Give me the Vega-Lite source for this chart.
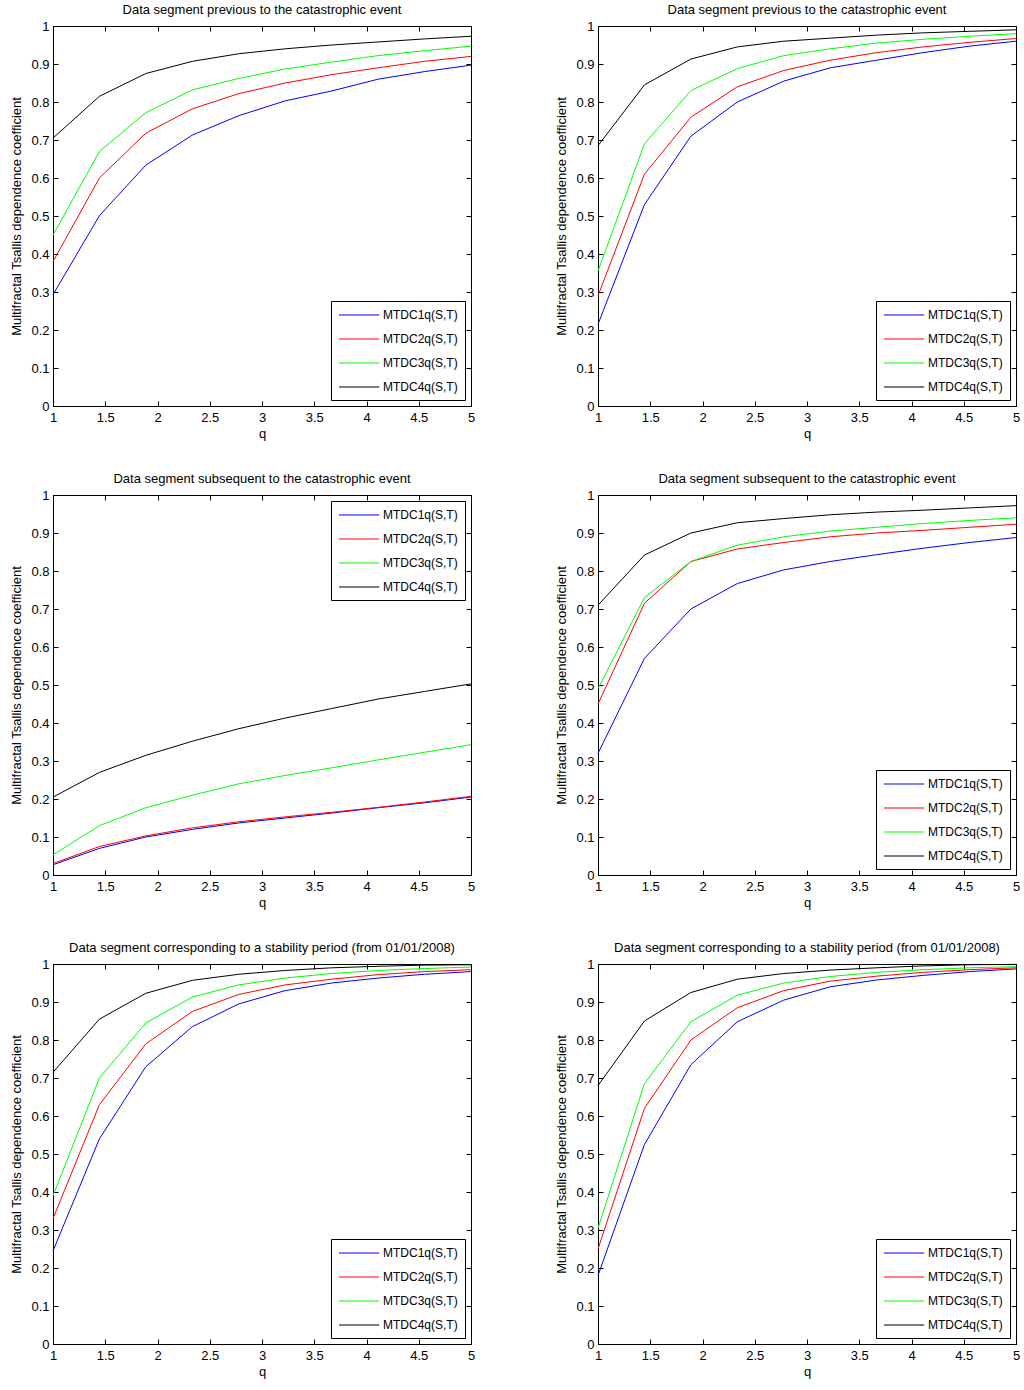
{
  "$schema": "https://vega.github.io/schema/vega-lite/v6.json",
  "background": "white",
  "padding": {"left": 10, "top": 3, "right": 5, "bottom": 5},
  "datasets": {
    "p1": [
      {"q": 1, "MTDC1": 0.293, "MTDC2": 0.38, "MTDC3": 0.45, "MTDC4": 0.705},
      {"q": 1.4444, "MTDC1": 0.501, "MTDC2": 0.6, "MTDC3": 0.67, "MTDC4": 0.815},
      {"q": 1.8889, "MTDC1": 0.634, "MTDC2": 0.718, "MTDC3": 0.772, "MTDC4": 0.875},
      {"q": 2.3333, "MTDC1": 0.713, "MTDC2": 0.782, "MTDC3": 0.832, "MTDC4": 0.907},
      {"q": 2.7778, "MTDC1": 0.764, "MTDC2": 0.822, "MTDC3": 0.862, "MTDC4": 0.927},
      {"q": 3.2222, "MTDC1": 0.803, "MTDC2": 0.85, "MTDC3": 0.887, "MTDC4": 0.94},
      {"q": 3.6667, "MTDC1": 0.829, "MTDC2": 0.872, "MTDC3": 0.905, "MTDC4": 0.95},
      {"q": 4.1111, "MTDC1": 0.86, "MTDC2": 0.89, "MTDC3": 0.922, "MTDC4": 0.958},
      {"q": 4.5556, "MTDC1": 0.88, "MTDC2": 0.907, "MTDC3": 0.935, "MTDC4": 0.966},
      {"q": 5, "MTDC1": 0.897, "MTDC2": 0.92, "MTDC3": 0.947, "MTDC4": 0.973}
    ],
    "p2": [
      {"q": 1, "MTDC1": 0.215, "MTDC2": 0.29, "MTDC3": 0.355, "MTDC4": 0.685},
      {"q": 1.4444, "MTDC1": 0.53, "MTDC2": 0.61, "MTDC3": 0.69, "MTDC4": 0.845},
      {"q": 1.8889, "MTDC1": 0.71, "MTDC2": 0.76, "MTDC3": 0.83, "MTDC4": 0.913},
      {"q": 2.3333, "MTDC1": 0.8, "MTDC2": 0.84, "MTDC3": 0.888, "MTDC4": 0.945},
      {"q": 2.7778, "MTDC1": 0.855, "MTDC2": 0.883, "MTDC3": 0.922, "MTDC4": 0.96},
      {"q": 3.2222, "MTDC1": 0.89, "MTDC2": 0.91, "MTDC3": 0.94, "MTDC4": 0.968},
      {"q": 3.6667, "MTDC1": 0.91, "MTDC2": 0.93, "MTDC3": 0.955, "MTDC4": 0.976},
      {"q": 4.1111, "MTDC1": 0.93, "MTDC2": 0.945, "MTDC3": 0.965, "MTDC4": 0.982},
      {"q": 4.5556, "MTDC1": 0.947, "MTDC2": 0.957, "MTDC3": 0.973, "MTDC4": 0.986},
      {"q": 5, "MTDC1": 0.96, "MTDC2": 0.967, "MTDC3": 0.98, "MTDC4": 0.99}
    ],
    "p3": [
      {"q": 1, "MTDC1": 0.027, "MTDC2": 0.03, "MTDC3": 0.053, "MTDC4": 0.205},
      {"q": 1.4444, "MTDC1": 0.07, "MTDC2": 0.075, "MTDC3": 0.13, "MTDC4": 0.27},
      {"q": 1.8889, "MTDC1": 0.1, "MTDC2": 0.103, "MTDC3": 0.177, "MTDC4": 0.315},
      {"q": 2.3333, "MTDC1": 0.12, "MTDC2": 0.124, "MTDC3": 0.21, "MTDC4": 0.352},
      {"q": 2.7778, "MTDC1": 0.137, "MTDC2": 0.14, "MTDC3": 0.24, "MTDC4": 0.385},
      {"q": 3.2222, "MTDC1": 0.15, "MTDC2": 0.153, "MTDC3": 0.262, "MTDC4": 0.413},
      {"q": 3.6667, "MTDC1": 0.163, "MTDC2": 0.165, "MTDC3": 0.282, "MTDC4": 0.438},
      {"q": 4.1111, "MTDC1": 0.177, "MTDC2": 0.178, "MTDC3": 0.303, "MTDC4": 0.463},
      {"q": 4.5556, "MTDC1": 0.19, "MTDC2": 0.192, "MTDC3": 0.323, "MTDC4": 0.483},
      {"q": 5, "MTDC1": 0.205, "MTDC2": 0.207, "MTDC3": 0.343, "MTDC4": 0.503}
    ],
    "p4": [
      {"q": 1, "MTDC1": 0.32, "MTDC2": 0.45, "MTDC3": 0.49, "MTDC4": 0.71},
      {"q": 1.4444, "MTDC1": 0.57, "MTDC2": 0.715, "MTDC3": 0.73, "MTDC4": 0.842},
      {"q": 1.8889, "MTDC1": 0.7, "MTDC2": 0.825, "MTDC3": 0.825, "MTDC4": 0.9},
      {"q": 2.3333, "MTDC1": 0.767, "MTDC2": 0.858, "MTDC3": 0.868, "MTDC4": 0.927},
      {"q": 2.7778, "MTDC1": 0.803, "MTDC2": 0.875, "MTDC3": 0.89, "MTDC4": 0.938},
      {"q": 3.2222, "MTDC1": 0.825, "MTDC2": 0.89, "MTDC3": 0.905, "MTDC4": 0.948},
      {"q": 3.6667, "MTDC1": 0.843, "MTDC2": 0.9, "MTDC3": 0.915, "MTDC4": 0.955},
      {"q": 4.1111, "MTDC1": 0.86, "MTDC2": 0.907, "MTDC3": 0.925, "MTDC4": 0.96},
      {"q": 4.5556, "MTDC1": 0.875, "MTDC2": 0.915, "MTDC3": 0.933, "MTDC4": 0.966},
      {"q": 5, "MTDC1": 0.888, "MTDC2": 0.923, "MTDC3": 0.94, "MTDC4": 0.972}
    ],
    "p5": [
      {"q": 1, "MTDC1": 0.245, "MTDC2": 0.33, "MTDC3": 0.39, "MTDC4": 0.715},
      {"q": 1.4444, "MTDC1": 0.54, "MTDC2": 0.63, "MTDC3": 0.7, "MTDC4": 0.855},
      {"q": 1.8889, "MTDC1": 0.73, "MTDC2": 0.79, "MTDC3": 0.845, "MTDC4": 0.923},
      {"q": 2.3333, "MTDC1": 0.835, "MTDC2": 0.875, "MTDC3": 0.913, "MTDC4": 0.957},
      {"q": 2.7778, "MTDC1": 0.895, "MTDC2": 0.92, "MTDC3": 0.945, "MTDC4": 0.973},
      {"q": 3.2222, "MTDC1": 0.93, "MTDC2": 0.945, "MTDC3": 0.963, "MTDC4": 0.983},
      {"q": 3.6667, "MTDC1": 0.95, "MTDC2": 0.96, "MTDC3": 0.975, "MTDC4": 0.99},
      {"q": 4.1111, "MTDC1": 0.963, "MTDC2": 0.972, "MTDC3": 0.983, "MTDC4": 0.994},
      {"q": 4.5556, "MTDC1": 0.973, "MTDC2": 0.98, "MTDC3": 0.988, "MTDC4": 0.997},
      {"q": 5, "MTDC1": 0.98, "MTDC2": 0.985, "MTDC3": 0.992, "MTDC4": 0.998}
    ],
    "p6": [
      {"q": 1, "MTDC1": 0.18, "MTDC2": 0.25, "MTDC3": 0.305, "MTDC4": 0.68},
      {"q": 1.4444, "MTDC1": 0.525, "MTDC2": 0.62, "MTDC3": 0.685, "MTDC4": 0.85},
      {"q": 1.8889, "MTDC1": 0.735, "MTDC2": 0.8, "MTDC3": 0.848, "MTDC4": 0.925},
      {"q": 2.3333, "MTDC1": 0.848, "MTDC2": 0.885, "MTDC3": 0.918, "MTDC4": 0.96},
      {"q": 2.7778, "MTDC1": 0.905, "MTDC2": 0.93, "MTDC3": 0.95, "MTDC4": 0.975},
      {"q": 3.2222, "MTDC1": 0.94, "MTDC2": 0.955, "MTDC3": 0.967, "MTDC4": 0.984},
      {"q": 3.6667, "MTDC1": 0.958, "MTDC2": 0.968, "MTDC3": 0.978, "MTDC4": 0.99},
      {"q": 4.1111, "MTDC1": 0.97, "MTDC2": 0.978, "MTDC3": 0.985, "MTDC4": 0.995},
      {"q": 4.5556, "MTDC1": 0.98, "MTDC2": 0.985, "MTDC3": 0.99, "MTDC4": 0.998},
      {"q": 5, "MTDC1": 0.987, "MTDC2": 0.99, "MTDC3": 0.993, "MTDC4": 0.999}
    ]
  },
  "config": {
    "font": "Liberation Sans",
    "view": {"stroke": "black", "strokeWidth": 1},
    "axis": {
      "grid": false,
      "domainColor": "black",
      "tickColor": "black",
      "labelColor": "black",
      "titleColor": "black",
      "labelFont": "Liberation Sans",
      "titleFont": "Liberation Sans",
      "labelFontSize": 13,
      "titleFontSize": 13,
      "titleFontWeight": "normal",
      "tickSize": -5,
      "labelFlush": false,
      "labelOverlap": false
    },
    "axisX": {"labelPadding": 10, "titlePadding": 3},
    "axisY": {"labelPadding": 9, "titlePadding": 7},
    "title": {"font": "Liberation Sans", "fontSize": 13, "fontWeight": "normal", "color": "black", "offset": 3},
    "legend": {
      "strokeColor": "black",
      "fillColor": "white",
      "padding": 7,
      "symbolType": "M-1,0H5.7",
      "symbolSize": 144,
      "symbolStrokeWidth": 1.2,
      "symbolOpacity": 1,
      "labelFont": "Liberation Sans",
      "labelFontSize": 12,
      "labelColor": "black",
      "labelOffset": 31,
      "rowPadding": 11,
      "offset": 6
    }
  },
  "concat": [
    {
      "title": "Data segment previous to the catastrophic event",
      "width": 418, "height": 380,
      "data": {"name": "p1"},
      "transform": [{"fold": ["MTDC1", "MTDC2", "MTDC3", "MTDC4"], "as": ["s", "v"]}],
      "layer": [
        {"mark": {"type": "line", "strokeWidth": 1},
         "encoding": {
           "x": {"field": "q", "type": "quantitative", "scale": {"domain": [1, 5], "nice": false}, "axis": {"orient": "bottom", "title": "q", "values": [1, 1.5, 2, 2.5, 3, 3.5, 4, 4.5, 5], "format": "~g"}},
           "y": {"field": "v", "type": "quantitative", "scale": {"domain": [0, 1], "nice": false}, "axis": {"orient": "left", "title": "Multifractal Tsallis dependence coefficient", "values": [0, 0.1, 0.2, 0.3, 0.4, 0.5, 0.6, 0.7, 0.8, 0.9, 1], "format": "~g"}},
           "color": {"field": "s", "type": "nominal", "scale": {"domain": ["MTDC1", "MTDC2", "MTDC3", "MTDC4"], "range": ["#0000ff", "#ff0000", "#00ff00", "#000000"]}, "legend": {"title": null, "orient": "bottom-right", "labelExpr": "datum.label + 'q(S,T)'"}}
         }},
        {"mark": {"type": "line", "opacity": 0},
         "encoding": {
           "x": {"field": "q", "type": "quantitative", "axis": {"orient": "top", "title": null, "labels": false, "values": [1, 1.5, 2, 2.5, 3, 3.5, 4, 4.5, 5]}},
           "y": {"field": "v", "type": "quantitative", "axis": {"orient": "right", "title": null, "labels": false, "values": [0, 0.1, 0.2, 0.3, 0.4, 0.5, 0.6, 0.7, 0.8, 0.9, 1]}},
           "detail": {"field": "s"}
         }}
      ],
      "resolve": {"axis": {"x": "independent", "y": "independent"}}
    },
    {
      "title": "Data segment previous to the catastrophic event",
      "width": 418, "height": 380,
      "data": {"name": "p2"},
      "transform": [{"fold": ["MTDC1", "MTDC2", "MTDC3", "MTDC4"], "as": ["s", "v"]}],
      "layer": [
        {"mark": {"type": "line", "strokeWidth": 1},
         "encoding": {
           "x": {"field": "q", "type": "quantitative", "scale": {"domain": [1, 5], "nice": false}, "axis": {"orient": "bottom", "title": "q", "values": [1, 1.5, 2, 2.5, 3, 3.5, 4, 4.5, 5], "format": "~g"}},
           "y": {"field": "v", "type": "quantitative", "scale": {"domain": [0, 1], "nice": false}, "axis": {"orient": "left", "title": "Multifractal Tsallis dependence coefficient", "values": [0, 0.1, 0.2, 0.3, 0.4, 0.5, 0.6, 0.7, 0.8, 0.9, 1], "format": "~g"}},
           "color": {"field": "s", "type": "nominal", "scale": {"domain": ["MTDC1", "MTDC2", "MTDC3", "MTDC4"], "range": ["#0000ff", "#ff0000", "#00ff00", "#000000"]}, "legend": {"title": null, "orient": "bottom-right", "labelExpr": "datum.label + 'q(S,T)'"}}
         }},
        {"mark": {"type": "line", "opacity": 0},
         "encoding": {
           "x": {"field": "q", "type": "quantitative", "axis": {"orient": "top", "title": null, "labels": false, "values": [1, 1.5, 2, 2.5, 3, 3.5, 4, 4.5, 5]}},
           "y": {"field": "v", "type": "quantitative", "axis": {"orient": "right", "title": null, "labels": false, "values": [0, 0.1, 0.2, 0.3, 0.4, 0.5, 0.6, 0.7, 0.8, 0.9, 1]}},
           "detail": {"field": "s"}
         }}
      ],
      "resolve": {"axis": {"x": "independent", "y": "independent"}}
    },
    {
      "title": "Data segment subsequent to the catastrophic event",
      "width": 418, "height": 380,
      "data": {"name": "p3"},
      "transform": [{"fold": ["MTDC1", "MTDC2", "MTDC3", "MTDC4"], "as": ["s", "v"]}],
      "layer": [
        {"mark": {"type": "line", "strokeWidth": 1},
         "encoding": {
           "x": {"field": "q", "type": "quantitative", "scale": {"domain": [1, 5], "nice": false}, "axis": {"orient": "bottom", "title": "q", "values": [1, 1.5, 2, 2.5, 3, 3.5, 4, 4.5, 5], "format": "~g"}},
           "y": {"field": "v", "type": "quantitative", "scale": {"domain": [0, 1], "nice": false}, "axis": {"orient": "left", "title": "Multifractal Tsallis dependence coefficient", "values": [0, 0.1, 0.2, 0.3, 0.4, 0.5, 0.6, 0.7, 0.8, 0.9, 1], "format": "~g"}},
           "color": {"field": "s", "type": "nominal", "scale": {"domain": ["MTDC1", "MTDC2", "MTDC3", "MTDC4"], "range": ["#0000ff", "#ff0000", "#00ff00", "#000000"]}, "legend": {"title": null, "orient": "top-right", "labelExpr": "datum.label + 'q(S,T)'"}}
         }},
        {"mark": {"type": "line", "opacity": 0},
         "encoding": {
           "x": {"field": "q", "type": "quantitative", "axis": {"orient": "top", "title": null, "labels": false, "values": [1, 1.5, 2, 2.5, 3, 3.5, 4, 4.5, 5]}},
           "y": {"field": "v", "type": "quantitative", "axis": {"orient": "right", "title": null, "labels": false, "values": [0, 0.1, 0.2, 0.3, 0.4, 0.5, 0.6, 0.7, 0.8, 0.9, 1]}},
           "detail": {"field": "s"}
         }}
      ],
      "resolve": {"axis": {"x": "independent", "y": "independent"}}
    },
    {
      "title": "Data segment subsequent to the catastrophic event",
      "width": 418, "height": 380,
      "data": {"name": "p4"},
      "transform": [{"fold": ["MTDC1", "MTDC2", "MTDC3", "MTDC4"], "as": ["s", "v"]}],
      "layer": [
        {"mark": {"type": "line", "strokeWidth": 1},
         "encoding": {
           "x": {"field": "q", "type": "quantitative", "scale": {"domain": [1, 5], "nice": false}, "axis": {"orient": "bottom", "title": "q", "values": [1, 1.5, 2, 2.5, 3, 3.5, 4, 4.5, 5], "format": "~g"}},
           "y": {"field": "v", "type": "quantitative", "scale": {"domain": [0, 1], "nice": false}, "axis": {"orient": "left", "title": "Multifractal Tsallis dependence coefficient", "values": [0, 0.1, 0.2, 0.3, 0.4, 0.5, 0.6, 0.7, 0.8, 0.9, 1], "format": "~g"}},
           "color": {"field": "s", "type": "nominal", "scale": {"domain": ["MTDC1", "MTDC2", "MTDC3", "MTDC4"], "range": ["#0000ff", "#ff0000", "#00ff00", "#000000"]}, "legend": {"title": null, "orient": "bottom-right", "labelExpr": "datum.label + 'q(S,T)'"}}
         }},
        {"mark": {"type": "line", "opacity": 0},
         "encoding": {
           "x": {"field": "q", "type": "quantitative", "axis": {"orient": "top", "title": null, "labels": false, "values": [1, 1.5, 2, 2.5, 3, 3.5, 4, 4.5, 5]}},
           "y": {"field": "v", "type": "quantitative", "axis": {"orient": "right", "title": null, "labels": false, "values": [0, 0.1, 0.2, 0.3, 0.4, 0.5, 0.6, 0.7, 0.8, 0.9, 1]}},
           "detail": {"field": "s"}
         }}
      ],
      "resolve": {"axis": {"x": "independent", "y": "independent"}}
    },
    {
      "title": "Data segment corresponding to a stability period (from 01/01/2008)",
      "width": 418, "height": 380,
      "data": {"name": "p5"},
      "transform": [{"fold": ["MTDC1", "MTDC2", "MTDC3", "MTDC4"], "as": ["s", "v"]}],
      "layer": [
        {"mark": {"type": "line", "strokeWidth": 1},
         "encoding": {
           "x": {"field": "q", "type": "quantitative", "scale": {"domain": [1, 5], "nice": false}, "axis": {"orient": "bottom", "title": "q", "values": [1, 1.5, 2, 2.5, 3, 3.5, 4, 4.5, 5], "format": "~g"}},
           "y": {"field": "v", "type": "quantitative", "scale": {"domain": [0, 1], "nice": false}, "axis": {"orient": "left", "title": "Multifractal Tsallis dependence coefficient", "values": [0, 0.1, 0.2, 0.3, 0.4, 0.5, 0.6, 0.7, 0.8, 0.9, 1], "format": "~g"}},
           "color": {"field": "s", "type": "nominal", "scale": {"domain": ["MTDC1", "MTDC2", "MTDC3", "MTDC4"], "range": ["#0000ff", "#ff0000", "#00ff00", "#000000"]}, "legend": {"title": null, "orient": "bottom-right", "labelExpr": "datum.label + 'q(S,T)'"}}
         }},
        {"mark": {"type": "line", "opacity": 0},
         "encoding": {
           "x": {"field": "q", "type": "quantitative", "axis": {"orient": "top", "title": null, "labels": false, "values": [1, 1.5, 2, 2.5, 3, 3.5, 4, 4.5, 5]}},
           "y": {"field": "v", "type": "quantitative", "axis": {"orient": "right", "title": null, "labels": false, "values": [0, 0.1, 0.2, 0.3, 0.4, 0.5, 0.6, 0.7, 0.8, 0.9, 1]}},
           "detail": {"field": "s"}
         }}
      ],
      "resolve": {"axis": {"x": "independent", "y": "independent"}}
    },
    {
      "title": "Data segment corresponding to a stability period (from 01/01/2008)",
      "width": 418, "height": 380,
      "data": {"name": "p6"},
      "transform": [{"fold": ["MTDC1", "MTDC2", "MTDC3", "MTDC4"], "as": ["s", "v"]}],
      "layer": [
        {"mark": {"type": "line", "strokeWidth": 1},
         "encoding": {
           "x": {"field": "q", "type": "quantitative", "scale": {"domain": [1, 5], "nice": false}, "axis": {"orient": "bottom", "title": "q", "values": [1, 1.5, 2, 2.5, 3, 3.5, 4, 4.5, 5], "format": "~g"}},
           "y": {"field": "v", "type": "quantitative", "scale": {"domain": [0, 1], "nice": false}, "axis": {"orient": "left", "title": "Multifractal Tsallis dependence coefficient", "values": [0, 0.1, 0.2, 0.3, 0.4, 0.5, 0.6, 0.7, 0.8, 0.9, 1], "format": "~g"}},
           "color": {"field": "s", "type": "nominal", "scale": {"domain": ["MTDC1", "MTDC2", "MTDC3", "MTDC4"], "range": ["#0000ff", "#ff0000", "#00ff00", "#000000"]}, "legend": {"title": null, "orient": "bottom-right", "labelExpr": "datum.label + 'q(S,T)'"}}
         }},
        {"mark": {"type": "line", "opacity": 0},
         "encoding": {
           "x": {"field": "q", "type": "quantitative", "axis": {"orient": "top", "title": null, "labels": false, "values": [1, 1.5, 2, 2.5, 3, 3.5, 4, 4.5, 5]}},
           "y": {"field": "v", "type": "quantitative", "axis": {"orient": "right", "title": null, "labels": false, "values": [0, 0.1, 0.2, 0.3, 0.4, 0.5, 0.6, 0.7, 0.8, 0.9, 1]}},
           "detail": {"field": "s"}
         }}
      ],
      "resolve": {"axis": {"x": "independent", "y": "independent"}}
    }
  ],
  "columns": 2,
  "spacing": {"row": 31, "column": 79},
  "resolve": {"legend": {"color": "independent"}}
}
